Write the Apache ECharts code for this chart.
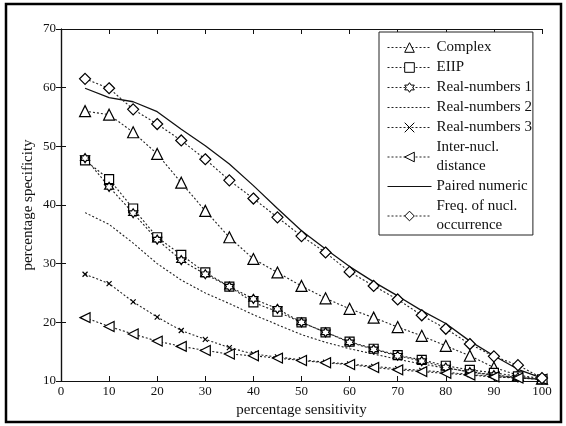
<!DOCTYPE html>
<html>
<head>
<meta charset="utf-8">
<script src="https://cdn.jsdelivr.net/npm/echarts@6/dist/echarts.min.js"></script>
<style>html,body{margin:0;padding:0;background:#fff}#c{width:566px;height:426px}</style>
</head>
<body>
<div id="c"></div>
<script>
var sensitivity = [5,10,15,20,25,30,35,40,45,50,55,60,65,70,75,80,85,90,95,100];
var complexVals = [56.0,55.4,52.4,48.7,43.8,39.0,34.5,30.8,28.5,26.2,24.1,22.3,20.8,19.2,17.7,16.0,14.3,12.3,11.0,10.4];
var eiipVals    = [47.6,44.4,39.4,34.5,31.5,28.5,26.1,23.4,21.8,20.0,18.3,16.7,15.5,14.4,13.6,12.6,11.9,11.4,10.8,10.3];
var real1Vals   = [48.0,43.1,38.6,34.1,30.6,28.2,26.1,24.0,22.3,20.0,18.3,16.6,15.4,14.3,13.4,12.3,11.5,11.0,10.6,10.3];
var real2Vals   = [38.7,36.7,33.5,30.0,27.2,25.0,23.2,21.3,19.6,17.9,16.6,15.5,14.6,13.7,12.9,12.2,11.6,11.0,10.6,10.2];
var real3Vals   = [28.2,26.6,23.5,20.9,18.6,17.1,15.7,14.6,14.1,13.6,13.2,12.9,12.5,12.1,11.8,11.5,11.1,10.8,10.5,10.3];
var interVals   = [20.8,19.3,18.0,16.8,15.9,15.2,14.6,14.3,13.9,13.5,13.1,12.8,12.3,11.9,11.6,11.3,11.0,10.7,10.5,10.3];
var pairedVals  = [59.9,58.3,57.6,55.9,52.9,50.1,47.0,43.3,39.4,35.6,32.5,29.5,26.9,24.5,22.0,19.8,16.8,14.3,12.0,10.5];
var freqVals    = [61.5,59.9,56.3,53.8,51.0,47.8,44.2,41.1,37.9,34.7,31.9,28.6,26.2,23.9,21.2,18.9,16.3,14.2,12.7,10.5];
var seriesNames = ['Complex','EIIP','Real-numbers 1','Real-numbers 2','Real-numbers 3','Inter-nucl.\ndistance','Paired numeric','Freq. of nucl.\noccurrence'];
var xTicks = [0,10,20,30,40,50,60,70,80,90,100];
var yTicks = [10,20,30,40,50,60,70];

function pairs(v){ return sensitivity.map(function(x,i){ return [x, v[i]]; }); }

var FONT = 'Liberation Serif';
var dotted = {color:'#222', width:1.1, type:[2,2]};
var hexagram = 'path://M5,0L6.45,2.5L9.33,2.5L7.9,5L9.33,7.5L6.45,7.5L5,10L3.55,7.5L0.67,7.5L2.1,5L0.67,2.5L3.55,2.5Z';
var cross = 'path://M0,0L10,10M10,0L0,10';
var leftTri = 'path://M0,5L10,0L10,10Z';
var markerStyle = {color:'#fff', borderColor:'#000', borderWidth:1.2};

function mk(name, vals, symbol, size, line){
  return {
    name:name, type:'line', data:pairs(vals), symbol:symbol, symbolSize:size,
    lineStyle: line || dotted, itemStyle: markerStyle, showAllSymbol:true,
    animation:false, emphasis:{disabled:true}, z:3
  };
}

var hiddenMarker = {color:'rgba(0,0,0,0)', borderColor:'rgba(0,0,0,0)', borderWidth:0};
var legendData = seriesNames.map(function(n, i){
  return (i === 3 || i === 6) ? {name:n, itemStyle:hiddenMarker} : {name:n};
});

var chart = echarts.init(document.getElementById('c'), null, {renderer:'canvas'});
var axisCommon = {
  type:'value', splitLine:{show:false},
  axisLine:{show:true, lineStyle:{color:'#111', width:1.2}},
  axisTick:{show:true, inside:true, length:5, lineStyle:{color:'#111'}}
};
chart.setOption({
  backgroundColor:'#fff',
  animation:false,
  textStyle:{fontFamily:FONT},
  grid:{left:61, right:24, top:29, bottom:45},
  xAxis:[
    Object.assign({}, axisCommon, {min:xTicks[0], max:xTicks[xTicks.length-1], interval:10, position:'bottom',
      name:'percentage sensitivity', nameLocation:'middle', nameGap:20,
      nameTextStyle:{fontFamily:FONT, fontSize:15, color:'#111'},
      axisLabel:{fontFamily:FONT, fontSize:13, color:'#111', margin:4}}),
    Object.assign({}, axisCommon, {min:xTicks[0], max:xTicks[xTicks.length-1], interval:10, position:'top', axisLabel:{show:false}})
  ],
  yAxis:[
    Object.assign({}, axisCommon, {min:yTicks[0], max:yTicks[yTicks.length-1], interval:10, position:'left',
      name:'percentage specificity', nameLocation:'middle', nameGap:25, nameMoveOverlap:false,
      nameTextStyle:{fontFamily:FONT, fontSize:15, color:'#111'},
      axisLabel:{fontFamily:FONT, fontSize:13, color:'#111', margin:5}}),
    Object.assign({}, axisCommon, {min:yTicks[0], max:yTicks[yTicks.length-1], interval:10, position:'right', axisLabel:{show:false}})
  ],
  legend:{
    orient:'vertical', left:379, top:32, itemWidth:44, itemHeight:12, itemGap:1,
    padding:[6,1,0,8], borderColor:'#222', borderWidth:1, backgroundColor:'#fff',
    lineStyle:{width:1},
    itemStyle:{borderWidth:1},
    textStyle:{fontFamily:FONT, fontSize:15, color:'#111', lineHeight:19},
    data:legendData, selectedMode:false, z:10
  },
  graphic:[{type:'rect', shape:{x:6, y:4, width:555, height:418}, style:{fill:'none', stroke:'#000', lineWidth:2.5}, silent:true}],
  series:[
    mk(seriesNames[0], complexVals, 'triangle', 11),
    mk(seriesNames[1], eiipVals, 'rect', 9),
    mk(seriesNames[2], real1Vals, hexagram, 9),
    mk(seriesNames[3], real2Vals, 'none', 0),
    mk(seriesNames[4], real3Vals, cross, 5),
    mk(seriesNames[5], interVals, leftTri, 10),
    mk(seriesNames[6], pairedVals, 'none', 0, {color:'#111', width:1.3, type:'solid'}),
    mk(seriesNames[7], freqVals, 'diamond', 11)
  ]
});
</script>
</body>
</html>
